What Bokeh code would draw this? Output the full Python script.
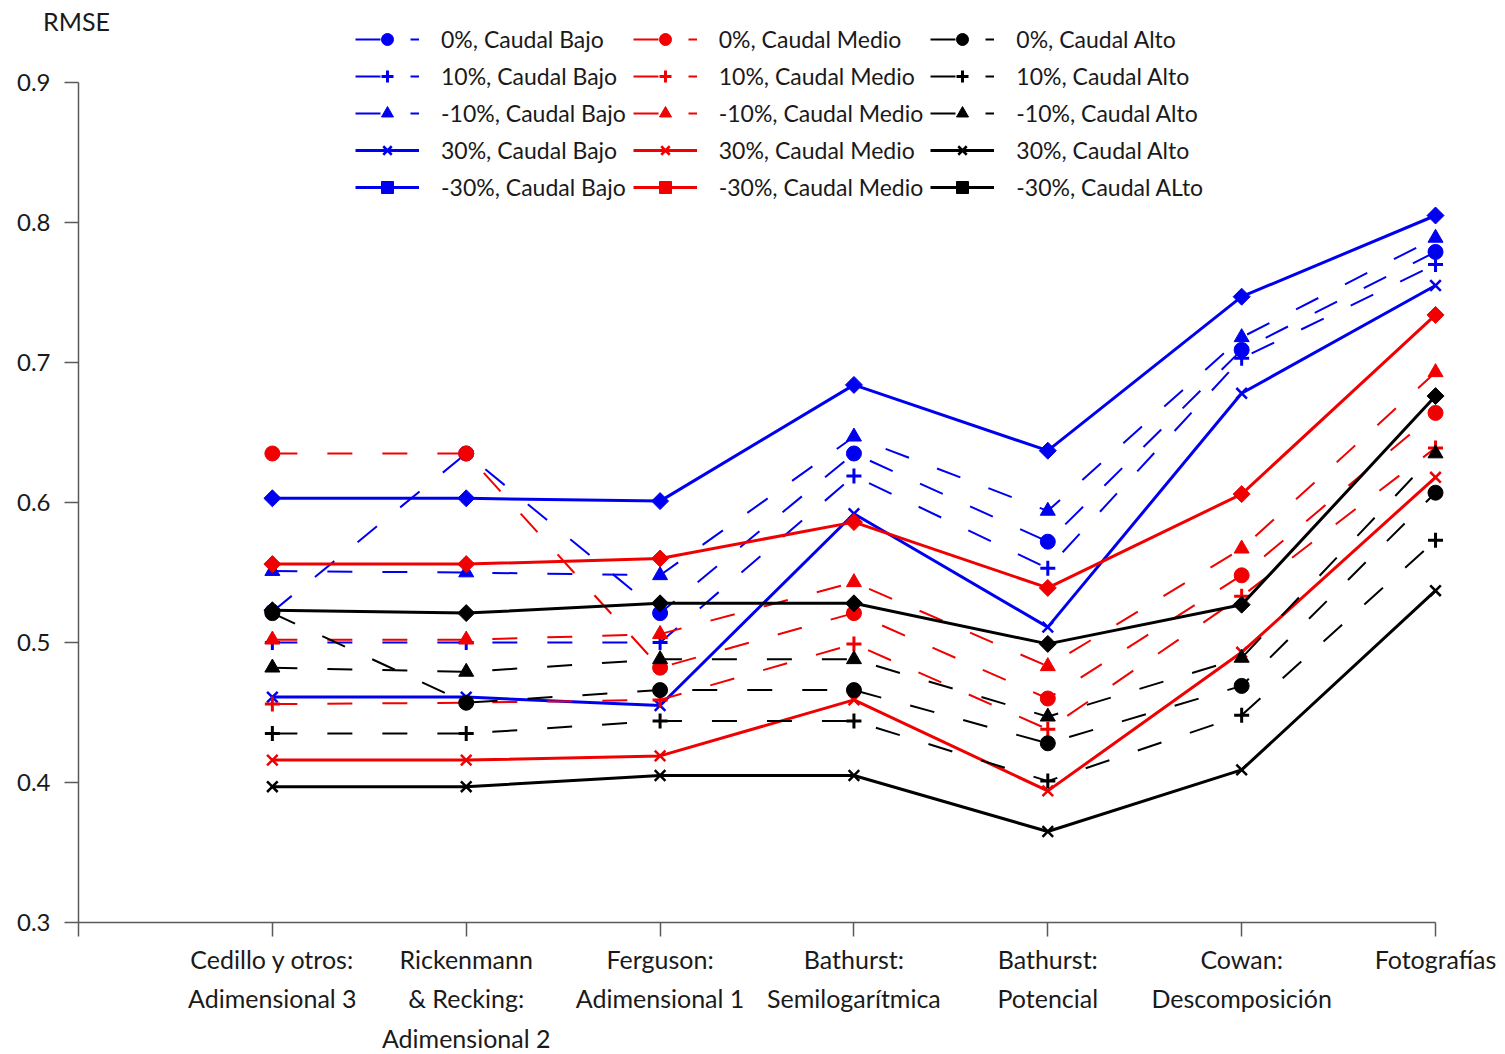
import math

from bokeh.core.properties import value
from bokeh.embed import file_html
from bokeh.models import ColumnDataSource, FixedTicker, Legend, LegendItem, Range1d
from bokeh.plotting import figure
from bokeh.resources import INLINE

# Methods compared (x axis) and their positions
categories = [
    "Cedillo y otros:\nAdimensional 3",
    "Rickenmann\n& Recking:\nAdimensional 2",
    "Ferguson:\nAdimensional 1",
    "Bathurst:\nSemilogarítmica",
    "Bathurst:\nPotencial",
    "Cowan:\nDescomposición",
    "Fotografías",
]
x_pos = [1, 2, 3, 4, 5, 6, 7]

y_ticks = [0.3, 0.4, 0.5, 0.6, 0.7, 0.8, 0.9]
y_title = "RMSE"

# RMSE per method, low discharge
bajo_0 = [0.522, 0.635, 0.521, 0.635, 0.572, 0.709, 0.779]
bajo_p10 = [0.500, 0.500, 0.500, 0.619, 0.553, 0.703, 0.770]
bajo_m10 = [0.551, 0.550, 0.548, 0.647, 0.594, 0.718, 0.789]
bajo_p30 = [0.461, 0.461, 0.455, 0.592, 0.511, 0.678, 0.755]
bajo_m30 = [0.603, 0.603, 0.601, 0.684, 0.637, 0.747, 0.805]

# RMSE per method, medium discharge
medio_0 = [0.635, 0.635, 0.482, 0.521, 0.460, 0.548, 0.664]
medio_p10 = [0.456, 0.457, 0.459, 0.499, 0.438, 0.533, 0.639]
medio_m10 = [0.502, 0.502, 0.506, 0.543, 0.483, 0.567, 0.693]
medio_p30 = [0.416, 0.416, 0.419, 0.459, 0.394, 0.493, 0.618]
medio_m30 = [0.556, 0.556, 0.560, 0.586, 0.539, 0.606, 0.734]

# RMSE per method, high discharge
alto_0 = [0.521, 0.457, 0.466, 0.466, 0.428, 0.469, 0.607]
alto_p10 = [0.435, 0.435, 0.444, 0.444, 0.401, 0.448, 0.573]
alto_m10 = [0.482, 0.479, 0.488, 0.488, 0.447, 0.489, 0.635]
alto_p30 = [0.397, 0.397, 0.405, 0.405, 0.365, 0.409, 0.537]
alto_m30 = [0.523, 0.521, 0.528, 0.528, 0.499, 0.527, 0.676]

series = [
    ("0%, Caudal Bajo", bajo_0, "blue", "0"),
    ("10%, Caudal Bajo", bajo_p10, "blue", "+10"),
    ("-10%, Caudal Bajo", bajo_m10, "blue", "-10"),
    ("30%, Caudal Bajo", bajo_p30, "blue", "+30"),
    ("-30%, Caudal Bajo", bajo_m30, "blue", "-30"),
    ("0%, Caudal Medio", medio_0, "red", "0"),
    ("10%, Caudal Medio", medio_p10, "red", "+10"),
    ("-10%, Caudal Medio", medio_m10, "red", "-10"),
    ("30%, Caudal Medio", medio_p30, "red", "+30"),
    ("-30%, Caudal Medio", medio_m30, "red", "-30"),
    ("0%, Caudal Alto", alto_0, "black", "0"),
    ("10%, Caudal Alto", alto_p10, "black", "+10"),
    ("-10%, Caudal Alto", alto_m10, "black", "-10"),
    ("30%, Caudal Alto", alto_p30, "black", "+30"),
    ("-30%, Caudal ALto", alto_m30, "black", "-30"),
]

COLORS = {"blue": "#0000F0", "red": "#F00000", "black": "#000000"}

# marker, size, angle, marker line width, dashed line?
STYLES = {
    "0": ("circle", 15, 0.0, 1, True),
    "+10": ("cross", 15, 0.0, 3, True),
    "-10": ("triangle", 15, 0.0, 1, True),
    "+30": ("x", 15, 0.0, 2.5, False),
    "-30": ("square", 12, math.pi / 4, 1, False),
}

FONT = "Lato"
TEXT_COLOR = "#1a1a1a"
AXIS_COLOR = "#5a5a5a"

W, H = 1505, 1054
# canvas geometry: where the axes cross and how many pixels one unit spans
ORIGIN_X, ORIGIN_Y = 78, 922
PX_X, PX_Y = 193.86, 1400.0
Y0 = 0.3

x_range = Range1d(-ORIGIN_X / PX_X, (W - ORIGIN_X) / PX_X)
y_range = Range1d(Y0 - (H - ORIGIN_Y) / PX_Y, Y0 + ORIGIN_Y / PX_Y)

p = figure(
    width=W,
    height=H,
    x_range=x_range,
    y_range=y_range,
    output_backend="svg",
    toolbar_location=None,
    min_border_left=0,
    min_border_right=0,
    min_border_top=0,
    min_border_bottom=0,
)
p.outline_line_color = None
p.grid.visible = False

# y axis, crossing the x axis at the origin
p.yaxis.fixed_location = 0
p.yaxis.ticker = FixedTicker(ticks=y_ticks, minor_ticks=[])
p.yaxis.bounds = (0.3, 0.9)
p.yaxis.major_tick_out = 14
p.yaxis.major_tick_in = 0
p.yaxis.minor_tick_line_color = None
p.yaxis.major_label_standoff = 14
p.yaxis.major_label_text_font = FONT
p.yaxis.major_label_text_font_size = "24px"
p.yaxis.major_label_text_color = TEXT_COLOR
p.yaxis.axis_line_color = AXIS_COLOR
p.yaxis.major_tick_line_color = AXIS_COLOR
p.yaxis.axis_line_width = 1.5
p.yaxis.major_tick_line_width = 1.5

# x axis at RMSE = 0.3, one labelled tick per method and a bare tick at the origin
p.xaxis.fixed_location = Y0
p.xaxis.ticker = FixedTicker(ticks=x_pos, minor_ticks=[0])
p.xaxis.bounds = (0, 7)
p.xaxis.major_label_overrides = {x: name for x, name in zip(x_pos, categories)}
p.xaxis.major_tick_out = 14
p.xaxis.major_tick_in = 0
p.xaxis.minor_tick_out = 14
p.xaxis.minor_tick_in = 0
p.xaxis.major_label_standoff = 7
p.xaxis.major_label_text_font = FONT
p.xaxis.major_label_text_font_size = "25px"
p.xaxis.major_label_text_color = TEXT_COLOR
p.xaxis.major_label_text_line_height = 1.33
p.xaxis.axis_line_color = AXIS_COLOR
p.xaxis.major_tick_line_color = AXIS_COLOR
p.xaxis.minor_tick_line_color = AXIS_COLOR
p.xaxis.axis_line_width = 1.5
p.xaxis.major_tick_line_width = 1.5
p.xaxis.minor_tick_line_width = 1.5

legend_items = []
for name, values, color, scen in series:
    marker, size, angle, mlw, dashed = STYLES[scen]
    c = COLORS[color]
    src = ColumnDataSource(dict(x=x_pos, y=values))
    line = p.line(
        "x", "y", source=src, line_color=c,
        line_width=2 if dashed else 3,
        line_dash="25 30" if dashed else "solid",
    )
    pts = p.scatter(
        "x", "y", source=src, marker=marker, size=size, angle=angle,
        fill_color=c, line_color=c, line_width=mlw,
    )
    legend_items.append(LegendItem(label=name, renderers=[line, pts]))

legend = Legend(
    items=legend_items,
    nrows=5,
    location=(345, 842),
    glyph_width=64,
    glyph_height=30,
    label_height=20,
    label_standoff=22,
    spacing=7,
    padding=10,
    margin=0,
    label_text_font=FONT,
    label_text_font_size="23px",
    label_text_color=TEXT_COLOR,
    border_line_alpha=0,
    background_fill_alpha=0,
)
p.add_layout(legend, "center")

# axis title above the y axis
p.text(
    x=[-2 / PX_X], y=[0.9 + 62 / PX_Y], text=[y_title],
    text_font=value(FONT), text_font_size="25px", text_color=TEXT_COLOR,
    text_align="center", text_baseline="middle",
)

open("out.html", "w").write(file_html(p, INLINE))
